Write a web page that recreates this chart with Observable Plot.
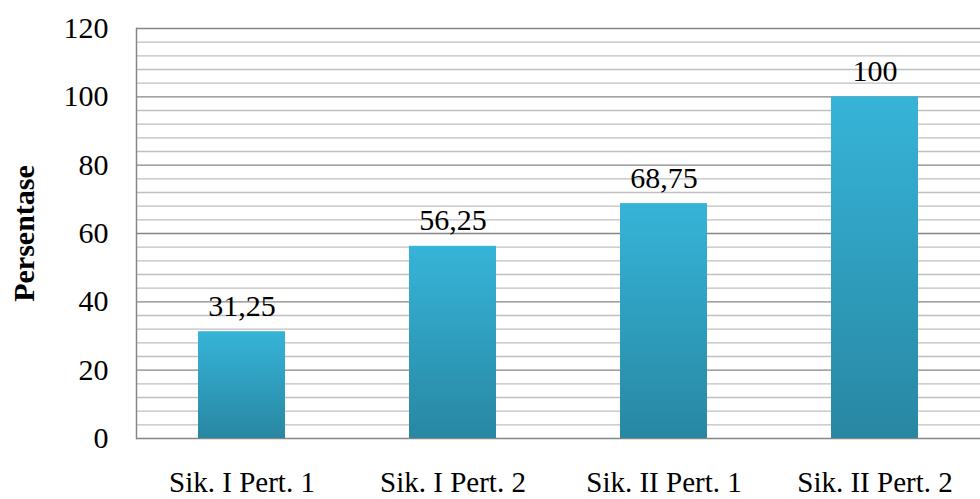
<!DOCTYPE html>
<html>
<head>
<meta charset="utf-8">
<script src="https://cdn.jsdelivr.net/npm/d3@7"></script>
<script src="https://cdn.jsdelivr.net/npm/@observablehq/plot@0.6"></script>
<style>
  html, body { margin: 0; padding: 0; background: white; }
  svg text { font-family: 'Liberation Serif', 'Times New Roman', serif; }
</style>
</head>
<body>
<div id="chart"></div>
<script>
const categories = ["Sik. I Pert. 1", "Sik. I Pert. 2", "Sik. II Pert. 1", "Sik. II Pert. 2"];
const values = [31.25, 56.25, 68.75, 100];
const majorTicks = [0, 20, 40, 60, 80, 100, 120];
const minorTicks = d3.range(0, 121, 4).filter(v => v % 20 !== 0);
const yLabel = "Persentase";

const data = categories.map((c, i) => ({cat: c, val: values[i], label: String(values[i]).replace(".", ",")}));
const FONT = "'Liberation Serif', 'Times New Roman', serif";

const chart = Plot.plot({
  width: 980,
  height: 499,
  marginLeft: 136,
  marginRight: 0,
  marginTop: 28,
  marginBottom: 61,
  style: {fontFamily: FONT, fontSize: "30px", color: "#000", background: "white"},
  x: {domain: categories, paddingInner: 0.59, paddingOuter: 0.295, label: null},
  y: {domain: [0, 120], label: null},
  marks: [
    Plot.ruleY(minorTicks, {stroke: "#bfbfbf", strokeWidth: 1.3}),
    Plot.ruleY(majorTicks, {stroke: "#868686", strokeWidth: 1.3}),
    Plot.frame({anchor: "left", stroke: "#868686", strokeWidth: 1.5}),
    Plot.barY(data, {x: "cat", y: "val", fill: "url(#barGrad)", style: "filter:url(#barShadow)"}),
    Plot.text(data, {x: "cat", y: "val", text: "label", lineAnchor: "bottom", dy: -16, fontSize: 30, fontFamily: FONT, fill: "#000"}),
    Plot.axisY({ticks: majorTicks, tickSize: 0, tickPadding: 28, fontSize: 30, fontFamily: FONT, label: null}),
    Plot.axisX({tickSize: 0, tickPadding: 33, fontSize: 29, fontFamily: FONT, label: null}),
    Plot.text([yLabel], {frameAnchor: "left", rotate: -90, dx: -112, fontWeight: "bold", fontSize: 30, fontFamily: FONT, fill: "#000", textAnchor: "middle"})
  ]
});

const svg = d3.select(chart);
const defs = svg.insert("defs", ":first-child");
const g = defs.append("linearGradient").attr("id", "barGrad").attr("x1", 0).attr("y1", 0).attr("x2", 0).attr("y2", 1);
g.append("stop").attr("offset", "0%").attr("stop-color", "#36b4d8");
g.append("stop").attr("offset", "100%").attr("stop-color", "#2887a3");
const f = defs.append("filter").attr("id", "barShadow").attr("x", "-20%").attr("y", "-20%").attr("width", "140%").attr("height", "140%");
f.append("feDropShadow").attr("dx", 1).attr("dy", 1).attr("stdDeviation", 2).attr("flood-color", "#000").attr("flood-opacity", 0.25);

document.getElementById("chart").appendChild(chart);
</script>
</body>
</html>
